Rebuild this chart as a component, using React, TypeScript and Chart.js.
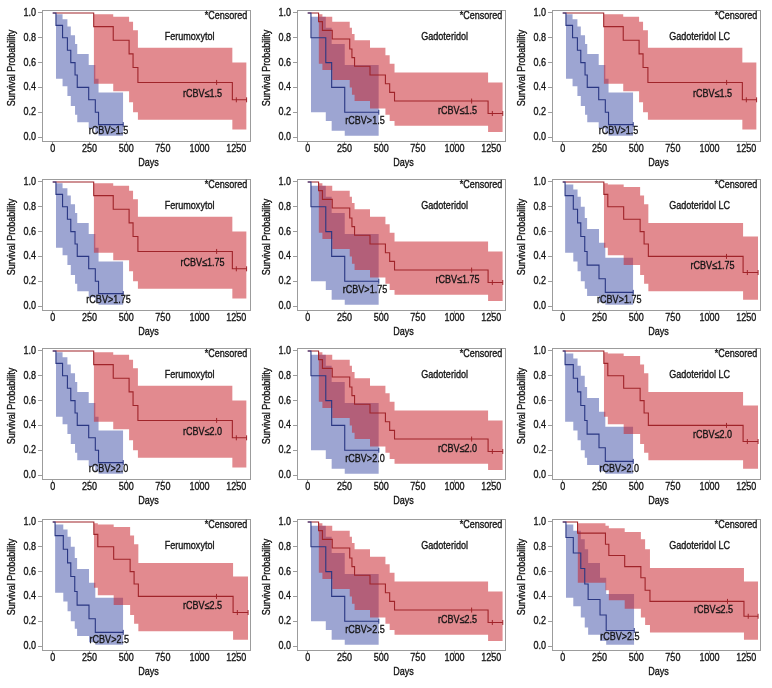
import React, { useEffect, useRef } from "react";
import { Chart, registerables } from "chart.js";

Chart.register(...registerables);

// ---------- data ----------
const AGENTS = ["Ferumoxytol", "Gadoteridol", "Gadoteridol LC"];
const THRESHOLDS = ["1.5", "1.75", "2.0", "2.5"];
// which survival data set each panel shows (rows = thresholds, cols = agents)
const SHAPE_GRID = [
  ["A", "B", "A"],
  ["A", "B", "C"],
  ["A", "B", "C"],
  ["C", "B", "D"],
];
const X_TICKS = [0, 250, 500, 750, 1000, 1250];
const Y_TICKS = [0, 0.2, 0.4, 0.6, 0.8, 1.0];

// Shape A
const A_HIGH_T = [0, 22, 67, 100, 123, 152, 167, 245, 290, 312, 480];
const A_HIGH_S = [1, 0.9, 0.8, 0.7, 0.6, 0.5, 0.4, 0.3, 0.2, 0.1, 0.1];
const A_HIGH_BAND_T = [22, 67, 100, 123, 152, 167, 245, 290, 312, 480];
const A_HIGH_LO = [0.47, 0.41, 0.33, 0.25, 0.18, 0.12, 0.07, 0.03, 0.01, 0.01];
const A_HIGH_UP = [0.99, 0.95, 0.89, 0.82, 0.75, 0.67, 0.58, 0.47, 0.36, 0.36];
const A_HIGH_CENSOR = [480];
const A_LOW_T = [0, 279, 412, 520, 547, 580, 1223, 1320];
const A_LOW_S = [1, 0.89, 0.78, 0.67, 0.56, 0.44, 0.3, 0.3];
const A_LOW_BAND_T = [279, 412, 520, 547, 580, 1223, 1320];
const A_LOW_LO = [0.43, 0.37, 0.28, 0.2, 0.14, 0.06, 0.06];
const A_LOW_UP = [0.99, 0.97, 0.93, 0.86, 0.72, 0.6, 0.6];
const A_LOW_CENSOR = [1116, 1250, 1320];

// Shape B
const B_HIGH_T = [0, 22, 123, 163, 252, 484];
const B_HIGH_S = [1, 0.8, 0.6, 0.4, 0.2, 0.2];
const B_HIGH_BAND_T = [22, 123, 163, 252, 484];
const B_HIGH_LO = [0.2, 0.13, 0.05, 0.01, 0.01];
const B_HIGH_UP = [0.97, 0.88, 0.75, 0.58, 0.58];
const B_HIGH_CENSOR = [484];
const B_LOW_T = [0, 74, 100, 167, 286, 301, 319, 424, 529, 558, 591, 1228, 1328];
const B_LOW_S = [1, 0.93, 0.86, 0.79, 0.71, 0.64, 0.57, 0.5, 0.43, 0.36, 0.29, 0.19, 0.19];
const B_LOW_BAND_T = [74, 100, 167, 286, 301, 319, 424, 529, 558, 591, 1228, 1328];
const B_LOW_LO = [0.59, 0.54, 0.46, 0.4, 0.34, 0.29, 0.23, 0.18, 0.13, 0.09, 0.04, 0.04];
const B_LOW_UP = [0.99, 0.97, 0.93, 0.88, 0.83, 0.78, 0.72, 0.66, 0.59, 0.52, 0.44, 0.44];
const B_LOW_CENSOR = [1116, 1257, 1328];

// Shape C
const C_HIGH_T = [0, 16, 72, 101, 123, 150, 166, 247, 290, 480];
const C_HIGH_S = [1, 0.89, 0.78, 0.67, 0.56, 0.44, 0.33, 0.22, 0.11, 0.11];
const C_HIGH_BAND_T = [16, 72, 101, 123, 150, 166, 247, 290, 480];
const C_HIGH_LO = [0.43, 0.36, 0.28, 0.2, 0.14, 0.08, 0.03, 0.01, 0.01];
const C_HIGH_UP = [0.98, 0.94, 0.88, 0.8, 0.71, 0.62, 0.51, 0.39, 0.39];
const C_HIGH_CENSOR = [480];
const C_LOW_T = [0, 280, 307, 415, 527, 554, 583, 1228, 1330];
const C_LOW_S = [1, 0.9, 0.8, 0.7, 0.6, 0.5, 0.4, 0.27, 0.27];
const C_LOW_BAND_T = [280, 307, 415, 527, 554, 583, 1228, 1330];
const C_LOW_LO = [0.47, 0.41, 0.33, 0.25, 0.18, 0.12, 0.05, 0.05];
const C_LOW_UP = [0.99, 0.98, 0.96, 0.89, 0.82, 0.67, 0.56, 0.56];
const C_LOW_CENSOR = [1115, 1257, 1330];

// Shape D
const D_HIGH_T = [0, 22, 72, 123, 150, 173, 254, 296, 487];
const D_HIGH_S = [1, 0.875, 0.75, 0.625, 0.5, 0.375, 0.25, 0.125, 0.125];
const D_HIGH_BAND_T = [22, 72, 123, 150, 173, 254, 296, 487];
const D_HIGH_LO = [0.39, 0.32, 0.23, 0.15, 0.09, 0.04, 0.01, 0.01];
const D_HIGH_UP = [0.98, 0.93, 0.86, 0.78, 0.67, 0.55, 0.42, 0.42];
const D_HIGH_CENSOR = [487];
const D_LOW_T = [0, 101, 291, 314, 422, 532, 561, 594, 1234, 1330];
const D_LOW_S = [1, 0.91, 0.82, 0.73, 0.64, 0.55, 0.45, 0.36, 0.24, 0.24];
const D_LOW_BAND_T = [101, 291, 314, 422, 532, 561, 594, 1234, 1330];
const D_LOW_LO = [0.51, 0.45, 0.37, 0.3, 0.23, 0.17, 0.11, 0.05, 0.05];
const D_LOW_UP = [0.99, 0.97, 0.95, 0.92, 0.86, 0.78, 0.63, 0.52, 0.52];
const D_LOW_CENSOR = [1122, 1263, 1330];

type Curve = { t: number[]; s: number[]; bt: number[]; lo: number[]; up: number[]; c: number[] };

const SHAPES: Record<string, { high: Curve; low: Curve }> = {
  A: {
    high: { t: A_HIGH_T, s: A_HIGH_S, bt: A_HIGH_BAND_T, lo: A_HIGH_LO, up: A_HIGH_UP, c: A_HIGH_CENSOR },
    low: { t: A_LOW_T, s: A_LOW_S, bt: A_LOW_BAND_T, lo: A_LOW_LO, up: A_LOW_UP, c: A_LOW_CENSOR },
  },
  B: {
    high: { t: B_HIGH_T, s: B_HIGH_S, bt: B_HIGH_BAND_T, lo: B_HIGH_LO, up: B_HIGH_UP, c: B_HIGH_CENSOR },
    low: { t: B_LOW_T, s: B_LOW_S, bt: B_LOW_BAND_T, lo: B_LOW_LO, up: B_LOW_UP, c: B_LOW_CENSOR },
  },
  C: {
    high: { t: C_HIGH_T, s: C_HIGH_S, bt: C_HIGH_BAND_T, lo: C_HIGH_LO, up: C_HIGH_UP, c: C_HIGH_CENSOR },
    low: { t: C_LOW_T, s: C_LOW_S, bt: C_LOW_BAND_T, lo: C_LOW_LO, up: C_LOW_UP, c: C_LOW_CENSOR },
  },
  D: {
    high: { t: D_HIGH_T, s: D_HIGH_S, bt: D_HIGH_BAND_T, lo: D_HIGH_LO, up: D_HIGH_UP, c: D_HIGH_CENSOR },
    low: { t: D_LOW_T, s: D_LOW_S, bt: D_LOW_BAND_T, lo: D_LOW_LO, up: D_LOW_UP, c: D_LOW_CENSOR },
  },
};

// ---------- layout / style ----------
const LABEL_LAYOUT: Record<string, { low: [number, number]; high: [number, number] }> = {
  A: { low: [1020, 0.35], high: [380, 0.045] },
  B: { low: [1020, 0.21], high: [390, 0.13] },
  C: { low: [1020, 0.32], high: [385, 0.05] },
  D: { low: [1026, 0.29], high: [389, 0.07] },
};
const COL_LEFT = [0, 255, 510];
const ROW_TOP = [0, 169, 338, 509];
const CW = 256;
const CH = 172;

const FONT = "11px 'Liberation Sans', Arial, sans-serif";
const SQUEEZE = 0.82; // horizontal condensing of all text
const TEXT_COLOR = "#141414";
const FRAME_COLOR = "#9c9c9c";
const BLUE_FILL = "rgba(60,75,165,0.5)";
const RED_FILL = "rgba(200,30,40,0.52)";
const BLUE_LINE = "#2a3783";
const RED_LINE = "#a0242a";

function survAt(t: number[], s: number[], x: number) {
  let v = s[0];
  for (let i = 0; i < t.length; i++) if (t[i] <= x) v = s[i];
  return v;
}

function curveDatasets(cv: Curve, fill: string, line: string, bandOrder: number) {
  const pts = (xs: number[], ys: number[]) => xs.map((x, i) => ({ x, y: ys[i] }));
  const base = { stepped: true as const, pointRadius: 0, borderWidth: 0, borderColor: "transparent" };
  return {
    band: [
      { ...base, data: pts(cv.bt, cv.lo), fill: false, order: bandOrder },
      { ...base, data: pts(cv.bt, cv.up), fill: "-1", backgroundColor: fill, order: bandOrder },
    ],
    line: {
      stepped: true as const,
      data: pts(cv.t, cv.s),
      borderColor: line,
      borderWidth: 1.1,
      pointRadius: 0,
      fill: false,
      order: 1,
    },
    censor: {
      data: cv.c.map((x) => ({ x, y: survAt(cv.t, cv.s, x) })),
      showLine: false,
      pointStyle: "line",
      rotation: 90,
      pointRadius: 2.5,
      borderColor: line,
      borderWidth: 1,
      order: 0,
    },
  };
}

function squeezedText(
  ctx: CanvasRenderingContext2D,
  text: string,
  x: number,
  y: number,
  align: CanvasTextAlign,
  rotate = 0
) {
  ctx.save();
  ctx.translate(x, y);
  if (rotate) ctx.rotate(rotate);
  ctx.scale(SQUEEZE, 1);
  ctx.textAlign = align;
  ctx.textBaseline = "middle";
  ctx.fillText(text, 0, 0);
  ctx.lineWidth = 0.35;
  ctx.strokeText(text, 0, 0);
  ctx.restore();
}

function makeTextPlugin(items: { text: string; x: number; y: number; align: CanvasTextAlign }[]) {
  return {
    id: "panelText",
    afterDatasetsDraw(chart: any) {
      const { ctx, scales, chartArea: a } = chart;
      ctx.save();
      ctx.strokeStyle = FRAME_COLOR;
      ctx.lineWidth = 1;
      ctx.strokeRect(a.left + 0.5, a.top + 0.5, a.right - a.left - 1, a.bottom - a.top - 1);
      ctx.font = FONT;
      ctx.fillStyle = TEXT_COLOR;
      ctx.strokeStyle = TEXT_COLOR;
      // tick labels
      for (const v of X_TICKS) squeezedText(ctx, String(v), scales.x.getPixelForValue(v), a.bottom + 6.5, "center");
      for (const v of Y_TICKS) squeezedText(ctx, v.toFixed(1), a.left - 6, scales.y.getPixelForValue(v), "right");
      // axis titles
      squeezedText(ctx, "Days", (a.left + a.right) / 2 + 2, a.bottom + 21, "center");
      squeezedText(ctx, "Survival Probability", 12, a.top + 58, "center", -Math.PI / 2);
      // annotations
      for (const it of items) {
        squeezedText(ctx, it.text, scales.x.getPixelForValue(it.x), scales.y.getPixelForValue(it.y), it.align);
      }
      ctx.restore();
    },
  };
}

function Panel({ row, col }: { row: number; col: number }) {
  const ref = useRef<HTMLCanvasElement>(null);
  useEffect(() => {
    const shapeKey = SHAPE_GRID[row][col];
    const shape = SHAPES[shapeKey];
    const lay = LABEL_LAYOUT[shapeKey];
    const thr = THRESHOLDS[row];
    const hi = curveDatasets(shape.high, BLUE_FILL, BLUE_LINE, 5);
    const lo = curveDatasets(shape.low, RED_FILL, RED_LINE, 4);
    const datasets: any[] = [...hi.band, ...lo.band, hi.line, lo.line, hi.censor, lo.censor];
    const items = [
      { text: "*Censored", x: 1325, y: 0.972, align: "right" as CanvasTextAlign },
      { text: AGENTS[col], x: 932, y: 0.81, align: "center" as CanvasTextAlign },
      { text: `rCBV\u2264${thr}`, x: lay.low[0], y: lay.low[1], align: "center" as CanvasTextAlign },
      { text: `rCBV>${thr}`, x: lay.high[0], y: lay.high[1], align: "center" as CanvasTextAlign },
    ];
    const chart = new Chart(ref.current!, {
      type: "line",
      data: { datasets },
      options: {
        responsive: false,
        devicePixelRatio: 1,
        animation: false,
        parsing: false as any,
        layout: { padding: { top: 10, right: 1, left: 0, bottom: 0 } },
        plugins: { legend: { display: false }, tooltip: { enabled: false } },
        scales: {
          x: {
            type: "linear",
            min: -73,
            max: 1350,
            afterBuildTicks: (s: any) => {
              s.ticks = X_TICKS.map((v) => ({ value: v }));
            },
            afterFit: (s: any) => {
              s.height = 30;
            },
            grid: { display: true, drawOnChartArea: false, drawTicks: true, tickLength: 3, color: FRAME_COLOR },
            border: { display: false },
            ticks: { display: false },
          },
          y: {
            type: "linear",
            min: -0.04,
            max: 1.024,
            afterBuildTicks: (s: any) => {
              s.ticks = Y_TICKS.map((v) => ({ value: v }));
            },
            afterFit: (s: any) => {
              s.width = 42;
            },
            grid: { display: true, drawOnChartArea: false, drawTicks: true, tickLength: 4, color: FRAME_COLOR },
            border: { display: false },
            ticks: { display: false },
          },
        },
      },
      plugins: [makeTextPlugin(items)],
    } as any);
    return () => chart.destroy();
  }, [row, col]);
  return (
    <canvas
      ref={ref}
      width={CW}
      height={CH}
      style={{ position: "absolute", left: COL_LEFT[col], top: ROW_TOP[row], width: CW, height: CH }}
    />
  );
}

export default function App() {
  const cells: JSX.Element[] = [];
  for (let r = 0; r < THRESHOLDS.length; r++)
    for (let c = 0; c < AGENTS.length; c++) cells.push(<Panel key={`${r}-${c}`} row={r} col={c} />);
  return (
    <div style={{ position: "absolute", left: 0, top: 0, width: 772, height: 688, background: "#fff" }}>{cells}</div>
  );
}
